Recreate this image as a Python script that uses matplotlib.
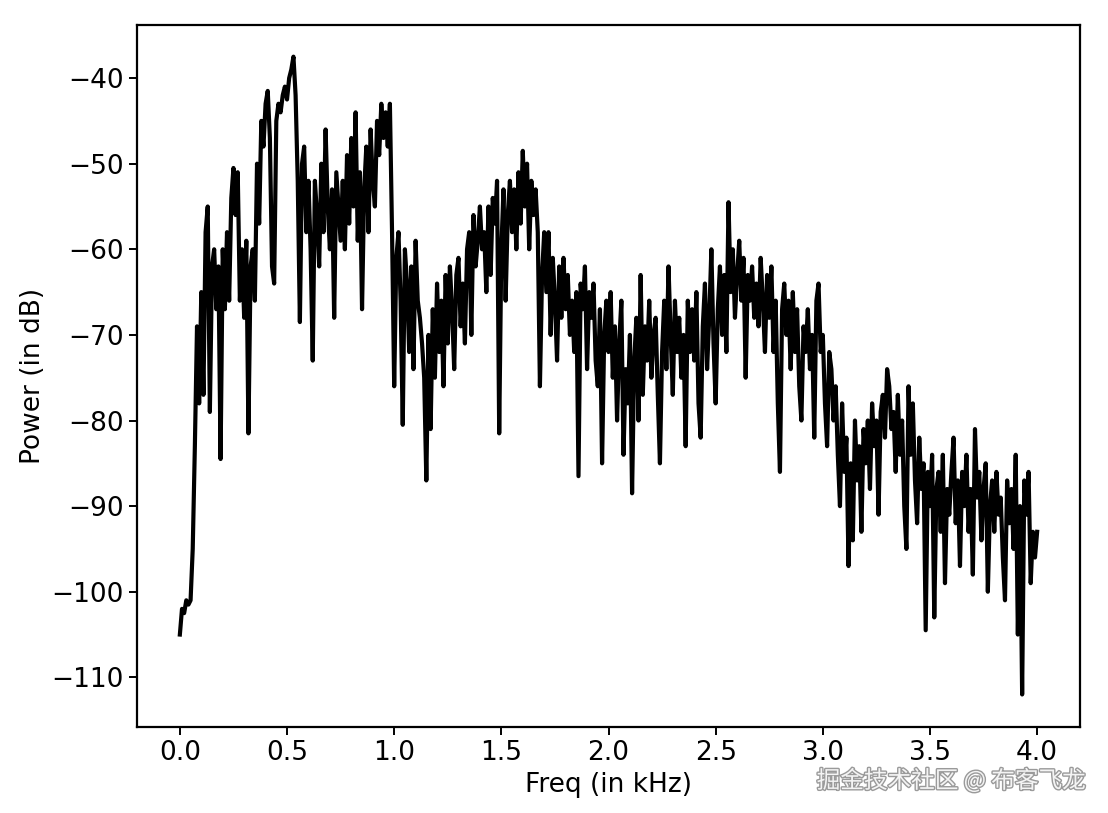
import numpy as np
import matplotlib
matplotlib.use('Agg')
import matplotlib.pyplot as plt
import matplotlib.patheffects as pe

# power spectrum, one value per 0.01 kHz
freq_step = 0.01
power_db = [
    -105, -102, -102.5, -101, -101.5, -101, -95, -83, -69, -78, -65, -77, -58, -55, -79, -62, -60, -67, -62, -84.5,
    -60, -67, -58, -66, -54, -50.5, -56, -51, -66, -60, -68, -59, -81.5, -62, -60, -66, -50, -57, -45, -48,
    -43, -41.5, -47, -62, -64, -45, -43, -44, -42, -41, -42.5, -40, -39, -37.5, -42, -52, -68.5, -50, -48, -58,
    -52, -60, -73, -52, -56, -62, -50, -58, -46, -55, -60, -53, -68, -51, -55, -59, -52, -60, -49, -57,
    -47, -55, -44, -59, -51, -67, -53, -48, -58, -46, -52, -55, -45, -49, -43, -47, -44, -48, -43, -58,
    -76, -61, -58, -66, -80.5, -60, -64, -72, -62, -74, -59, -66, -68, -71, -75, -87, -70, -81, -67, -75,
    -64, -72, -66, -76, -63, -71, -62, -67, -74, -63, -61, -69, -64, -71, -60, -58, -70, -56, -62, -59,
    -55, -60, -58, -65, -55, -63, -54, -57, -52, -81.5, -60, -53, -66, -56, -52, -58, -53, -60, -51, -57,
    -48.5, -55, -50, -60, -52, -56, -53, -58, -76, -63, -58, -65, -58, -70, -61, -66, -73, -62, -68, -61,
    -67, -63, -70, -66, -72, -65, -86.5, -64, -67, -62, -74, -65, -68, -64, -73, -76, -67, -85, -70, -66,
    -72, -65, -75, -69, -80, -71, -66, -84, -74, -78, -70, -88.5, -73, -68, -80, -63, -77, -69, -73, -66,
    -75, -70, -68, -77, -85, -72, -66, -74, -62, -70, -77, -66, -72, -68, -75, -70, -83, -66, -72, -67,
    -73, -65, -78, -82, -69, -64, -74, -68, -60, -71, -78, -67, -62, -70, -63, -72, -54.5, -65, -60, -68,
    -63, -59, -66, -61, -75, -63, -66, -62, -68, -64, -69, -61, -66, -72, -63, -68, -62, -72, -66, -78,
    -86, -67, -64, -70, -66, -74, -65, -72, -67, -76, -80, -69, -72, -67, -74, -70, -82, -66, -64, -72,
    -70, -78, -83, -72, -74, -80, -76, -84, -90, -78, -86, -82, -97, -85, -94, -80, -87, -83, -93, -81,
    -85, -80, -88, -78, -83, -80, -91, -79, -77, -82, -74, -76, -81, -79, -86, -77, -84, -80, -90, -95,
    -76, -84, -78, -87, -92, -82, -88, -85, -104.5, -86, -90, -84, -103, -88, -86, -93, -84, -99, -88, -91,
    -86, -82, -92, -87, -97, -86, -90, -84, -93, -88, -98, -81, -89, -86, -94, -88, -85, -100, -90, -87,
    -93, -86, -91, -89, -96, -101, -87, -92, -88, -95, -84, -105, -90, -112, -87, -91, -86, -99, -93, -96,
    -93,
]
freq_khz = np.arange(len(power_db)) * freq_step

fig = plt.figure(figsize=(11.08, 8.13), dpi=100)
ax = fig.add_axes([137 / 1108, 1 - 727 / 813, (1080 - 137) / 1108, (727 - 25) / 813])

ax.plot(freq_khz, power_db, color='k', lw=3.0)
ax.set_xlim(-0.2, 4.2)
ax.set_ylim(-115.8, -33.8)
ax.set_xticks(np.arange(0, 4.01, 0.5))
ax.set_yticks(np.arange(-110, -39, 10))

ax.set_xlabel('Freq (in kHz)', fontsize=19)
ax.set_ylabel('Power (in dB)', fontsize=19)
ax.tick_params(labelsize=19, length=6, width=1.4)
for s in ax.spines.values():
    s.set_linewidth(1.6)

# watermark, bottom right
fig.text(0.98, 0.04, '掘金技术社区 @ 布客飞龙', ha='right', va='center',
         fontsize=17, color='#f4f4f4', family=['Noto Sans CJK SC', 'DejaVu Sans'],
         path_effects=[pe.withStroke(linewidth=2, foreground='#9a9a9a')])

fig.savefig('out.png', dpi=100)
